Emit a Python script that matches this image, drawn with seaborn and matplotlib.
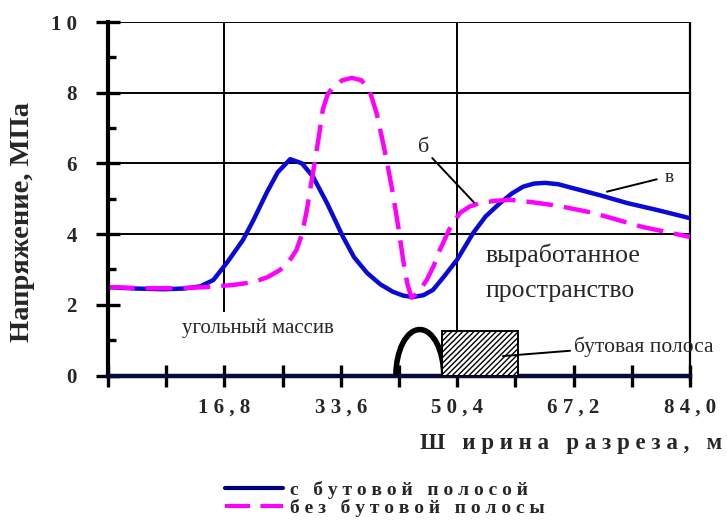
import numpy as np
import pandas as pd
import seaborn as sns
import matplotlib.pyplot as plt
from matplotlib.patches import Arc, Rectangle
from matplotlib.lines import Line2D

# curve data
x_with = [0, 4, 8, 11, 13.3, 15.2, 17.2, 19.5, 21, 22.9, 24.5, 26.3, 28, 29.6, 31.6, 33.9,
          35.5, 37.4, 39.3, 41.1, 42.6, 44.0, 45.5, 46.9, 48.5, 50.4, 52.7, 54.5, 56.6,
          58.3, 59.9, 61.5, 63.1, 65, 67.1, 71, 74.9, 79.5, 84]
y_with = [2.5, 2.46, 2.44, 2.46, 2.52, 2.7, 3.2, 3.84, 4.4, 5.17, 5.75, 6.12, 6.0, 5.62, 4.88, 3.93,
          3.35, 2.9, 2.58, 2.37, 2.26, 2.22, 2.27, 2.42, 2.8, 3.28, 4.03, 4.5, 4.88,
          5.15, 5.34, 5.43, 5.45, 5.41, 5.3, 5.1, 4.88, 4.67, 4.45]

x_without = [0, 5, 10, 14.3, 18, 21, 23, 24.8, 26.2, 27.2, 28, 28.7, 29.3, 29.9, 30.5, 31,
             31.7, 32.5, 33.8, 35.2, 36.6, 37.8, 38.8, 39.7, 40.4, 41.1, 41.9, 42.6, 43.2,
             43.8, 44.8, 46, 47, 47.9, 49.3, 50.8, 52.2, 53.7, 55.8, 58, 61.3, 65, 70, 77.2, 84]
y_without = [2.5, 2.47, 2.47, 2.5, 2.56, 2.64, 2.78, 2.98, 3.25, 3.55, 4.0, 4.68, 5.4, 6.1, 6.85, 7.52,
             7.95, 8.17, 8.35, 8.42, 8.35, 8.03, 7.4, 6.58, 5.9, 5.17, 4.2, 3.27, 2.6,
             2.2, 2.35, 2.7, 3.1, 3.55, 4.15, 4.6, 4.78, 4.88, 4.94, 4.97, 4.9, 4.8, 4.6, 4.2, 3.92]

series_names = ["с бутовой полосой", "без бутовой полосы"]
x_ticks = [0, 8.4, 16.8, 25.2, 33.6, 42.0, 50.4, 58.8, 67.2, 75.6, 84.0]
x_tick_labels = ["", "", "16,8", "", "33,6", "", "50,4", "", "67,2", "", "84,0"]
y_ticks = [0, 2, 4, 6, 8, 10]
y_tick_labels = ["0", "2", "4", "6", "8", "10"]


def spaced(s, sep=" "):
    return sep.join(s)


df = pd.concat([
    pd.DataFrame({"x": x_with, "y": y_with, "s": series_names[0]}),
    pd.DataFrame({"x": x_without, "y": y_without, "s": series_names[1]}),
])

sns.set_style("white")
plt.rcParams["font.family"] = ["Liberation Serif", "DejaVu Serif"]

fig = plt.figure(figsize=(7.27, 5.2), dpi=100)
ax = fig.add_axes([108 / 727, 1 - 375.5 / 520, (690 - 108) / 727, (375.5 - 22) / 520])

blue = "#0a0ad8"
magenta = "#ff00ff"
sns.lineplot(data=df, x="x", y="y", hue="s", style="s", palette=[blue, magenta],
             dashes=[(1, 0), (6, 2.5)], lw=3.2, ax=ax, legend=False, sort=False)

ax.set_xlim(0, 84)
ax.set_ylim(0, 10)

# grid / frame lines
for yv in [4, 6, 8, 10]:
    ax.axhline(yv, color="black", lw=1.4, zorder=1)
ax.vlines(16.8, 1.8, 10, color="black", lw=1.4, zorder=1)
ax.vlines(50.4, 1.25, 10, color="black", lw=1.4, zorder=1)
ax.vlines(84, -0.15, 10, color="black", lw=1.6, zorder=1, clip_on=False)

ax.spines["top"].set_visible(False)
ax.spines["right"].set_visible(False)
ax.spines["left"].set_linewidth(3)
ax.spines["left"].set_color("black")
ax.spines["bottom"].set_linewidth(3.2)
ax.spines["bottom"].set_color("#0a0a3a")

ax.set_xticks(x_ticks)
ax.set_xticklabels([spaced(t) for t in x_tick_labels], fontsize=15, fontweight="bold")
ax.set_yticks(y_ticks)
ax.set_yticklabels([spaced(t) for t in y_tick_labels], fontsize=15, fontweight="bold")
ax.set_yticks(np.arange(1, 10, 2), minor=True)
ax.tick_params(axis="x", bottom=True, direction="inout", length=16, width=2.4, pad=8, color="black")
ax.tick_params(axis="y", which="major", left=True, direction="inout", length=17, width=2.4,
               pad=14, color="black")
ax.tick_params(axis="y", which="minor", left=True, direction="in", length=6, width=2.4, color="black")

ax.set_xlabel("")
ax.set_ylabel("Напряжение, МПа", fontsize=20.5, fontweight="bold")
ax.yaxis.set_label_coords(-0.125, 0.434)
fig.text(722 / 727, 1 - 443 / 520, spaced("Ш ирина разреза, м"), ha="right", va="center",
         fontsize=16.5, fontweight="bold")

# goaf schematic: arch and rubble strip
ax.add_patch(Arc((45.0, 0), 6.9, 2.6, theta1=0, theta2=180, lw=4, color="black", zorder=4))
ax.add_patch(Rectangle((48.2, 0), 11.0, 1.25, facecolor="white", edgecolor="black",
                       hatch="//////", lw=1.4, zorder=4))

# annotations
ax.text(21.6, 1.35, "угольный массив", fontsize=15, ha="center", va="center")
ax.text(54.5, 3.4, "выработанное", fontsize=18.5, ha="left", va="center")
ax.text(54.5, 2.4, "пространство", fontsize=18.5, ha="left", va="center")
ax.text(67.2, 0.82, "бутовая полоса", fontsize=15.5, ha="left", va="center", zorder=6)
ax.plot([57.0, 66.7], [0.55, 0.7], color="black", lw=1.4, zorder=6)
ax.text(45.6, 6.45, "б", fontsize=16, ha="center", va="center")
ax.plot([46.8, 52.8], [6.15, 4.9], color="black", lw=1.4)
ax.text(80.3, 5.6, "в", fontsize=14, ha="left", va="center")
ax.plot([79.2, 72.0], [5.55, 5.2], color="black", lw=1.4)

# legend below the plot
handles = [Line2D([], [], color="#00007a", lw=3),
           Line2D([], [], color=magenta, lw=3, dashes=(6, 2.5))]
fig.legend(handles, [spaced(s) for s in series_names], loc="upper left",
           bbox_to_anchor=(211 / 727, 1 - 467 / 520), frameon=False, handlelength=3.0,
           handletextpad=0.35, labelspacing=0.0, borderpad=0.2,
           prop={"size": 14, "weight": "bold"})

fig.savefig("out.png", dpi=100)
